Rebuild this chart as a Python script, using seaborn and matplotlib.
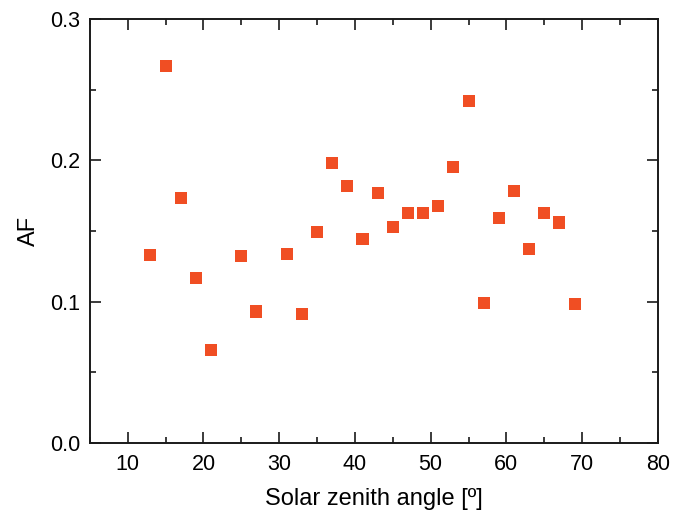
import matplotlib
matplotlib.use("Agg")
import matplotlib.pyplot as plt
from matplotlib.ticker import MultipleLocator
import seaborn as sns
import pandas as pd

sza = [13, 15, 17, 19, 21, 25, 27, 31, 33, 35, 37, 39, 41, 43, 45, 47, 49,
       51, 53, 55, 57, 59, 61, 63, 65, 67, 69]
af = [0.133, 0.267, 0.173, 0.117, 0.066, 0.132, 0.093, 0.134, 0.091, 0.149,
      0.198, 0.182, 0.144, 0.177, 0.153, 0.163, 0.163, 0.168, 0.195, 0.242,
      0.099, 0.159, 0.178, 0.137, 0.163, 0.156, 0.098]

df = pd.DataFrame({"sza": sza, "af": af})

sns.set_theme(style="ticks")
plt.rcParams["font.family"] = ["Liberation Sans", "DejaVu Sans"]

fig = plt.figure(figsize=(6.86, 5.15), dpi=100)
ax = fig.add_axes([0.131, 0.140, 0.828, 0.823])

sns.scatterplot(data=df, x="sza", y="af", ax=ax, marker="s", s=75,
                color="#F04E23", edgecolor="none", legend=False)

ax.set_xlim(5, 80)
ax.set_ylim(0, 0.3)
ax.xaxis.set_major_locator(MultipleLocator(10))
ax.xaxis.set_minor_locator(MultipleLocator(5))
ax.yaxis.set_major_locator(MultipleLocator(0.1))
ax.yaxis.set_minor_locator(MultipleLocator(0.05))
ax.set_xticks([10, 20, 30, 40, 50, 60, 70, 80])
ax.set_yticks([0.0, 0.1, 0.2, 0.3])
ax.set_yticklabels(["0.0", "0.1", "0.2", "0.3"])

for side in ["top", "right", "left", "bottom"]:
    ax.spines[side].set_visible(True)
    ax.spines[side].set_linewidth(1.4)
    ax.spines[side].set_color("#1a1a1a")

ax.tick_params(which="both", direction="in", top=True, right=True,
               colors="#1a1a1a", labelcolor="black", labelsize=15.5, width=1.2)
ax.tick_params(which="major", length=8)
ax.tick_params(which="minor", length=4.5)
ax.tick_params(axis="x", which="major", pad=8)
ax.tick_params(axis="y", which="major", pad=7)

ax.set_xlabel("Solar zenith angle [º]", fontsize=17, labelpad=9, color="black")
ax.set_ylabel("AF", fontsize=17, labelpad=7, color="black")

fig.savefig("out.png", dpi=100)
